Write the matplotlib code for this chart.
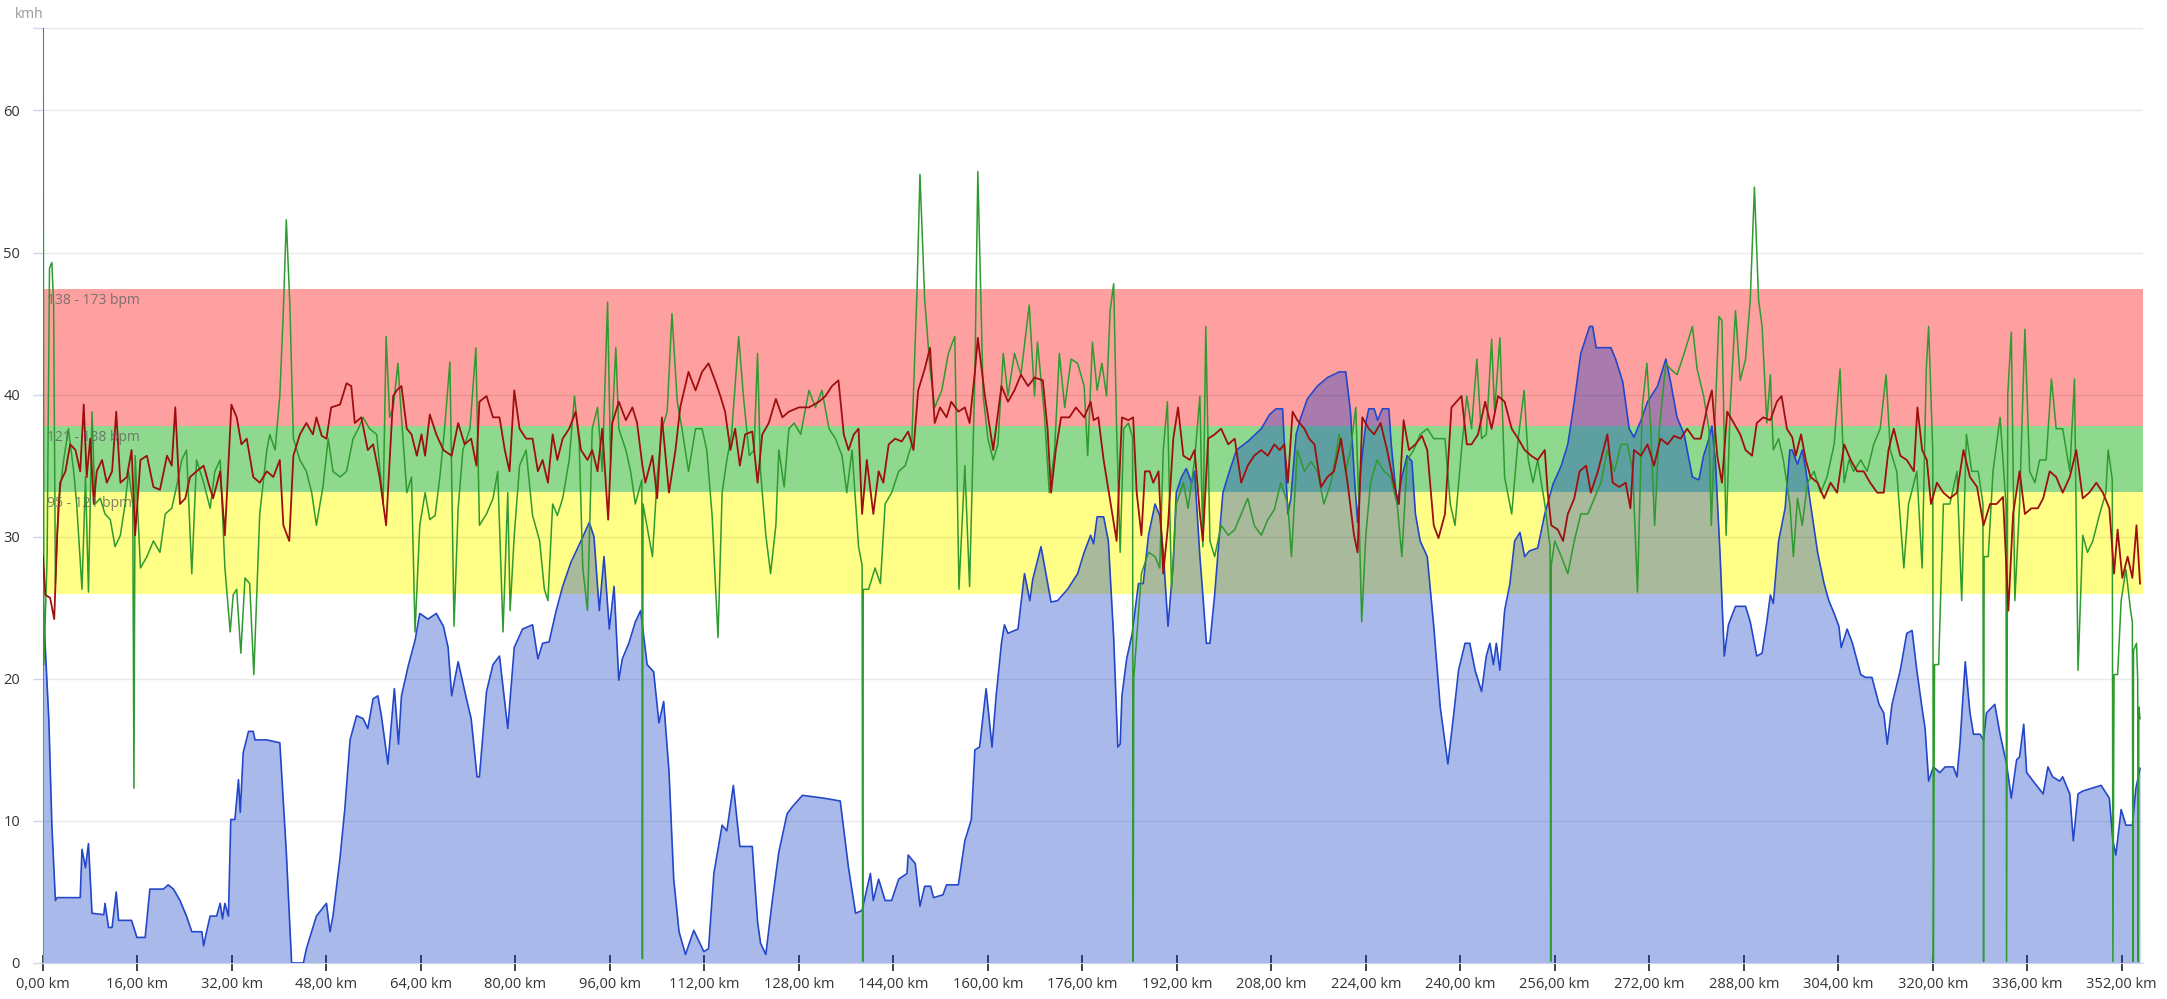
import matplotlib
matplotlib.use("Agg")
import matplotlib.pyplot as plt

# distance (km) / value (kmh scale)
elev_pts = [
    (0, 25.5), (1.0, 17), (1.5, 9.7), (2.1, 4.4), (2.4, 4.6), (6.3, 4.6), (6.6, 8), (7.2, 6.7),
    (7.7, 8.4), (8.3, 3.5), (10.3, 3.4), (10.5, 4.2), (11.1, 2.5), (11.7, 2.5), (12.4, 5.0),
    (12.8, 3.0), (15.0, 3.0), (15.9, 1.8), (17.3, 1.8), (18.1, 5.2), (20.4, 5.2), (21.2, 5.5),
    (22.1, 5.2), (23.2, 4.4), (24.3, 3.3), (25.2, 2.2), (26.9, 2.2), (27.2, 1.2), (27.7, 2.2),
    (28.3, 3.3), (29.4, 3.3), (30.0, 4.2), (30.4, 3.1), (30.8, 4.2), (31.4, 3.3), (31.8, 10.1),
    (32.5, 10.1), (33.1, 12.9), (33.4, 10.6), (33.9, 14.8), (34.8, 16.3), (35.6, 16.3),
    (35.9, 15.7), (37.9, 15.7), (40.1, 15.5), (41.2, 7.8), (42.1, 0), (44.1, 0), (44.6, 1.0),
    (46.3, 3.3), (48.0, 4.2), (48.6, 2.2), (49.1, 3.3), (50.3, 7.4), (51.1, 10.8), (52.0, 15.7),
    (53.1, 17.4), (54.2, 17.2), (55.0, 16.5), (55.9, 18.6), (56.7, 18.8), (57.3, 17.4),
    (58.4, 14.0), (59.5, 19.3), (60.2, 15.4), (60.7, 18.8), (61.9, 21.0), (63.0, 22.7),
    (63.8, 24.6), (65.2, 24.2), (66.6, 24.6), (67.8, 23.7), (68.6, 22.2), (69.2, 18.8),
    (70.3, 21.2), (71.7, 18.6), (72.5, 17.2), (73.5, 13.1), (73.9, 13.1), (75.1, 19.1),
    (76.2, 21.0), (77.3, 21.6), (78.7, 16.5), (79.8, 22.2), (81.2, 23.5), (82.9, 23.8),
    (83.8, 21.4), (84.6, 22.5), (85.7, 22.6), (86.9, 24.8), (88.0, 26.5), (89.4, 28.2),
    (91.1, 29.7), (92.5, 31.0), (93.3, 30.0), (94.2, 24.8), (95.0, 28.6), (95.9, 23.5),
    (96.7, 26.5), (97.5, 19.9), (98.1, 21.4), (99.2, 22.5), (100.3, 24.0), (101.2, 24.8),
    (102.3, 21.0), (103.4, 20.5), (104.3, 16.9), (105.1, 18.4), (106.0, 13.5), (106.8, 5.9),
    (107.7, 2.2), (108.8, 0.6), (110.2, 2.3), (111.9, 0.8), (112.7, 1.0), (113.6, 6.3),
    (115.0, 9.7), (115.8, 9.3), (116.9, 12.5), (118.0, 8.2), (120.1, 8.2), (121.0, 2.9),
    (121.5, 1.4), (122.4, 0.6), (123.5, 4.4), (124.6, 7.8), (126.0, 10.5), (126.9, 11.0),
    (128.6, 11.8), (132.2, 11.6), (135.0, 11.4), (136.4, 6.7), (137.6, 3.5), (138.7, 3.7),
    (140.1, 6.3), (140.6, 4.4), (141.5, 5.9), (142.6, 4.4), (143.7, 4.4), (144.9, 5.9),
    (146.3, 6.3), (146.5, 7.6), (147.7, 7.0), (148.5, 4.0), (149.3, 5.4), (150.3, 5.4),
    (150.8, 4.6), (152.4, 4.8), (153.0, 5.5), (155.0, 5.5), (156.1, 8.6), (157.2, 10.1),
    (157.8, 15.0), (158.6, 15.2), (159.7, 19.3), (160.7, 15.2), (161.4, 18.8), (162.3, 22.5),
    (162.8, 23.8), (163.4, 23.2), (165.1, 23.5), (166.2, 27.4), (167.1, 25.5), (167.6, 27.0),
    (169.0, 29.3), (170.7, 25.4), (171.8, 25.5), (173.5, 26.3), (175.2, 27.4), (176.3, 28.9),
    (177.4, 30.1), (177.9, 29.5), (178.5, 31.4), (179.6, 31.4), (180.4, 29.7), (181.3, 22.9),
    (182.0, 15.2), (182.4, 15.4), (182.7, 18.8), (183.5, 21.4), (184.4, 23.1), (185.5, 26.7),
    (186.3, 26.7), (187.2, 30.1), (188.3, 32.3), (189.1, 31.5), (189.7, 28.9), (190.5, 23.7),
    (191.4, 28.2), (191.9, 33.1), (192.8, 34.2), (193.6, 34.8), (194.5, 33.8), (195.0, 34.6),
    (195.9, 28.6), (196.4, 25.9), (197.0, 22.5), (197.6, 22.5), (198.4, 25.9), (199.2, 30.1),
    (199.8, 33.1), (200.9, 34.6), (202.1, 36.1), (204.0, 36.7), (206.3, 37.6), (207.7, 38.6),
    (208.8, 39.0), (209.9, 39.0), (210.8, 31.6), (211.3, 32.7), (212.2, 37.2), (213.0, 38.4),
    (214.1, 39.7), (215.8, 40.6), (217.5, 41.2), (219.5, 41.6), (220.6, 41.6), (221.4, 38.8),
    (222.0, 34.6), (222.6, 31.0), (223.1, 34.6), (224.0, 38.0), (224.5, 39.0), (225.4, 39.0),
    (226.0, 38.2), (226.8, 39.0), (227.9, 39.0), (228.3, 36.5), (229.3, 32.3), (230.1, 34.2),
    (231.0, 35.7), (231.8, 35.3), (232.4, 31.6), (233.2, 29.7), (234.4, 28.6), (235.5, 23.7),
    (236.6, 18.0), (237.9, 14.0), (238.8, 17.2), (239.7, 20.6), (240.8, 22.5), (241.6, 22.5),
    (242.5, 20.6), (243.6, 19.1), (244.4, 21.6), (245.0, 22.5), (245.6, 21.0), (246.1, 22.5),
    (246.7, 20.6), (247.5, 24.8), (248.4, 26.7), (249.2, 29.7), (250.1, 30.3), (250.9, 28.6),
    (251.7, 29.0), (253.1, 29.2), (254.3, 31.6), (255.7, 33.7), (257.1, 35.0), (258.2, 36.5),
    (259.3, 39.5), (260.4, 42.9), (261.9, 44.8), (262.4, 44.8), (263.0, 43.3), (265.5, 43.3),
    (266.3, 42.5), (267.5, 40.9), (268.6, 37.6), (269.4, 37.0), (270.6, 38.2), (271.7, 39.5),
    (273.4, 40.6), (274.8, 42.5), (275.6, 40.9), (276.7, 38.4), (277.9, 37.2), (279.3, 34.2),
    (280.4, 34.0), (281.2, 35.7), (282.1, 36.9), (282.6, 37.8), (283.2, 35.3), (284.0, 28.6),
    (284.7, 21.6), (285.4, 23.8), (286.6, 25.1), (288.3, 25.1), (289.1, 24.0), (290.2, 21.6),
    (291.1, 21.8), (291.9, 24.0), (292.5, 25.9), (293.0, 25.3), (293.9, 29.7), (295.0, 32.0),
    (295.8, 36.1), (296.2, 36.1), (297.1, 35.1), (297.9, 36.1), (298.5, 34.7), (299.3, 32.3),
    (300.5, 28.9), (301.6, 26.7), (302.4, 25.5), (303.3, 24.6), (304.1, 23.7), (304.5, 22.2),
    (305.5, 23.5), (306.4, 22.5), (307.8, 20.3), (308.6, 20.1), (309.7, 20.1), (310.9, 18.2),
    (311.7, 17.6), (312.3, 15.4), (313.1, 18.2), (314.5, 20.6), (315.6, 23.2), (316.5, 23.4),
    (317.3, 20.6), (318.2, 17.9), (318.7, 16.5), (319.3, 12.8), (320.1, 13.8), (321.2, 13.4),
    (322.1, 13.8), (323.5, 13.8), (324.1, 13.1), (324.6, 15.4), (325.5, 21.2), (326.3, 17.6),
    (326.9, 16.1), (328.0, 16.1), (328.6, 15.7), (329.1, 17.6), (330.5, 18.2), (331.4, 16.1),
    (332.5, 14.0), (333.3, 11.6), (334.2, 14.3), (334.7, 14.5), (335.4, 16.8), (335.9, 13.4),
    (337.0, 12.8), (338.7, 11.9), (339.5, 13.8), (340.3, 13.1), (341.5, 12.8), (342.0, 13.1),
    (343.2, 11.9), (343.8, 8.6), (344.6, 11.9), (345.4, 12.1), (348.5, 12.5), (349.9, 11.6),
    (350.5, 8.6), (351.0, 7.6), (351.9, 10.8), (352.7, 9.7), (353.8, 9.7), (354.4, 12.3),
    (355.1, 13.7),
]

hr_pts = [
    (0, 28.6), (0.4, 25.9), (1.2, 25.7), (1.9, 24.2), (2.4, 30.1), (2.9, 33.8), (3.8, 34.6),
    (4.6, 36.5), (5.5, 36.1), (6.3, 34.6), (6.9, 39.3), (7.4, 34.2), (8.0, 36.9), (8.6, 32.3),
    (9.1, 34.6), (10.0, 35.4), (10.8, 33.8), (11.7, 34.6), (12.4, 38.8), (13.1, 33.8),
    (14.2, 34.2), (15.0, 36.1), (15.6, 30.1), (16.5, 35.4), (17.6, 35.7), (18.7, 33.5),
    (19.8, 33.3), (21.0, 35.7), (21.8, 35.0), (22.4, 39.1), (23.2, 32.3), (24.1, 32.7),
    (24.9, 34.2), (26.0, 34.6), (27.2, 35.0), (28.0, 33.8), (28.8, 32.7), (30.0, 34.6),
    (30.8, 30.1), (31.9, 39.3), (32.8, 38.4), (33.6, 36.5), (34.5, 36.9), (35.6, 34.2),
    (36.7, 33.8), (37.9, 34.6), (39.0, 34.2), (40.1, 35.4), (40.7, 30.8), (41.7, 29.7),
    (42.4, 35.7), (43.5, 37.2), (44.6, 38.0), (45.7, 37.2), (46.3, 38.4), (47.2, 37.1),
    (48.0, 36.9), (48.8, 39.1), (50.3, 39.3), (51.4, 40.8), (52.2, 40.6), (52.8, 38.0),
    (53.9, 38.4), (55.0, 36.1), (55.9, 36.5), (57.0, 34.2), (58.1, 30.8), (59.3, 39.9),
    (59.9, 40.3), (60.7, 40.6), (61.6, 37.6), (62.4, 37.2), (63.3, 35.7), (64.1, 37.2),
    (64.7, 35.7), (65.5, 38.6), (66.6, 37.2), (67.8, 36.1), (69.2, 35.7), (70.3, 38.0),
    (71.4, 36.5), (72.5, 36.9), (73.4, 35.0), (73.9, 39.5), (75.1, 39.9), (76.2, 38.4),
    (77.3, 38.4), (78.2, 36.1), (79.0, 34.6), (79.8, 40.3), (80.7, 37.6), (81.8, 36.9),
    (82.9, 36.9), (83.8, 34.6), (84.6, 35.4), (85.5, 33.8), (86.3, 37.2), (87.1, 35.4),
    (88.0, 36.9), (89.1, 37.6), (90.2, 38.8), (91.1, 36.1), (92.2, 35.4), (93.0, 36.1),
    (93.9, 34.6), (94.7, 37.6), (95.7, 31.2), (96.4, 38.0), (97.5, 39.5), (98.7, 38.2),
    (99.8, 39.1), (100.6, 38.0), (101.5, 35.0), (102.0, 33.8), (103.2, 35.7), (104.0, 32.7),
    (104.8, 38.4), (106.0, 33.1), (107.1, 36.1), (107.9, 39.1), (109.3, 41.6), (110.5, 40.3),
    (111.6, 41.6), (112.7, 42.2), (113.8, 41.0), (114.7, 39.9), (115.5, 38.8), (116.4, 36.1),
    (117.2, 37.6), (118.0, 35.0), (118.9, 37.2), (120.1, 37.4), (121.0, 33.8), (121.8, 37.2),
    (122.9, 38.0), (124.1, 39.7), (125.2, 38.4), (126.3, 38.8), (128.0, 39.1), (129.7, 39.1),
    (131.4, 39.5), (132.5, 39.9), (133.6, 40.6), (134.7, 41.0), (135.6, 37.2), (136.4, 36.1),
    (137.3, 37.2), (138.1, 37.6), (138.7, 31.6), (139.5, 35.4), (140.6, 31.6), (141.5, 34.6),
    (142.3, 33.8), (143.2, 36.5), (144.3, 36.9), (145.4, 36.7), (146.5, 37.4), (147.4, 36.1),
    (148.2, 40.3), (149.3, 41.8), (150.2, 43.3), (151.0, 38.0), (151.9, 39.1), (153.0, 38.4),
    (153.8, 39.5), (155.0, 38.8), (156.1, 39.1), (156.9, 38.0), (157.8, 41.6), (158.3, 44.0),
    (159.5, 39.9), (160.9, 36.1), (162.3, 40.6), (163.4, 39.5), (164.5, 40.3), (165.6, 41.4),
    (166.8, 40.6), (167.9, 41.2), (169.3, 41.0), (170.1, 37.6), (170.7, 33.1), (171.5, 36.1),
    (172.4, 38.4), (173.8, 38.4), (174.9, 39.1), (176.3, 38.4), (177.4, 39.5), (177.9, 38.2),
    (178.7, 38.4), (179.6, 35.4), (181.0, 31.8), (181.8, 29.7), (182.7, 38.4), (183.8, 38.2),
    (184.6, 38.4), (185.2, 33.1), (186.0, 30.1), (186.6, 34.6), (187.4, 34.6), (188.0, 33.8),
    (188.9, 34.6), (189.7, 27.4), (190.5, 30.8), (191.4, 36.9), (192.2, 39.1), (193.1, 35.7),
    (194.2, 35.4), (195.0, 36.1), (195.9, 31.6), (196.4, 29.7), (197.3, 36.9), (198.4, 37.2),
    (199.5, 37.6), (200.7, 36.5), (201.8, 36.9), (202.9, 33.8), (204.0, 35.0), (205.1, 35.7),
    (206.3, 36.1), (207.4, 35.7), (208.5, 36.5), (209.4, 36.1), (210.2, 36.5), (210.8, 33.8),
    (211.6, 38.8), (212.4, 38.2), (213.6, 37.6), (214.4, 36.9), (215.3, 36.5), (216.4, 33.5),
    (217.5, 34.2), (218.6, 34.6), (219.8, 36.9), (220.9, 33.8), (222.0, 30.1), (222.6, 28.9),
    (223.4, 38.4), (224.5, 37.6), (225.4, 37.2), (226.5, 38.0), (227.6, 36.1), (228.7, 33.8),
    (229.6, 32.3), (230.4, 38.2), (231.3, 36.1), (232.4, 36.5), (233.5, 37.1), (234.4, 36.1),
    (235.5, 30.8), (236.3, 29.9), (237.4, 31.6), (238.5, 39.1), (240.2, 39.9), (241.1, 36.5),
    (241.9, 36.5), (243.0, 37.2), (244.2, 39.5), (245.3, 37.6), (246.4, 39.9), (247.5, 39.5),
    (248.7, 37.6), (249.8, 36.9), (250.9, 36.1), (252.0, 35.7), (253.1, 35.4), (254.3, 36.1),
    (254.8, 33.1), (255.4, 30.8), (256.5, 30.5), (257.4, 29.7), (258.2, 31.6), (259.3, 32.7),
    (260.2, 34.6), (261.3, 35.0), (262.1, 33.1), (263.3, 34.6), (264.9, 37.2), (265.8, 33.8),
    (266.9, 33.5), (268.0, 33.8), (268.8, 32.0), (269.4, 36.1), (270.6, 35.7), (271.7, 36.5),
    (272.8, 35.0), (273.9, 36.9), (275.1, 36.5), (276.2, 37.1), (277.3, 36.9), (278.4, 37.6),
    (279.6, 36.9), (280.7, 36.9), (281.8, 39.1), (282.6, 40.3), (283.5, 35.7), (284.3, 33.8),
    (285.2, 38.8), (286.3, 38.0), (287.4, 37.2), (288.3, 36.1), (289.4, 35.7), (290.2, 38.0),
    (291.3, 38.4), (292.5, 38.2), (293.6, 39.5), (294.4, 39.9), (295.3, 37.6), (296.2, 37.0),
    (296.8, 35.7), (297.7, 37.2), (298.5, 35.4), (299.3, 34.2), (300.5, 33.8), (301.6, 32.7),
    (302.7, 33.8), (303.8, 33.1), (305.0, 36.5), (306.1, 35.4), (307.2, 34.6), (308.3, 34.6),
    (309.4, 33.8), (310.6, 33.1), (311.7, 33.1), (312.5, 36.1), (313.4, 37.6), (314.5, 35.7),
    (315.6, 35.4), (316.8, 34.6), (317.4, 39.1), (318.2, 36.1), (319.0, 35.4), (319.7, 32.3),
    (320.7, 33.8), (321.8, 33.1), (322.9, 32.7), (324.1, 33.1), (325.2, 36.1), (326.3, 34.2),
    (327.5, 33.5), (328.6, 30.8), (329.7, 32.3), (330.8, 32.3), (331.9, 32.8), (332.8, 24.8),
    (333.6, 31.6), (334.7, 34.6), (335.6, 31.6), (336.7, 32.0), (337.8, 32.0), (338.7, 32.7),
    (339.8, 34.6), (340.9, 34.2), (342.0, 33.1), (343.2, 34.2), (344.3, 36.1), (345.4, 32.7),
    (346.5, 33.1), (347.7, 33.8), (348.8, 33.1), (349.9, 32.0), (350.7, 27.4), (351.3, 30.5),
    (352.1, 27.1), (353.0, 28.6), (353.8, 27.1), (354.5, 30.8), (355.1, 26.7),
]

speed_pts = [
    (0, 0), (0.03, 65.8), (0.15, 21), (0.7, 28.6), (1.1, 48.9), (1.5, 49.3), (1.8, 46.3),
    (2.1, 26.7), (2.6, 32.3), (3.5, 35.4), (4.3, 37.6), (5.2, 34.6), (5.7, 32.3), (6.6, 26.3),
    (7.2, 34.2), (7.7, 26.1), (8.3, 38.8), (8.8, 32.3), (9.7, 32.7), (10.5, 31.6), (11.4, 31.2),
    (12.2, 29.3), (13.1, 30.1), (13.9, 32.3), (14.5, 34.6), (15.2, 32.3), (15.4, 12.3),
    (15.6, 35.7), (16.5, 27.8), (17.6, 28.6), (18.7, 29.7), (19.8, 28.9), (20.7, 31.6),
    (21.8, 32.0), (22.6, 33.5), (23.5, 35.4), (24.3, 36.1), (25.2, 27.4), (26.0, 35.4),
    (27.2, 33.8), (28.3, 32.0), (29.1, 34.6), (30.0, 35.4), (30.8, 27.8), (31.7, 23.3),
    (32.2, 25.9), (32.8, 26.3), (33.5, 21.8), (34.2, 27.1), (35.0, 26.7), (35.7, 20.3),
    (36.7, 31.6), (37.9, 36.1), (38.4, 37.2), (39.3, 36.1), (40.1, 39.9), (40.7, 45.9),
    (41.2, 52.3), (41.8, 46.3), (42.4, 36.9), (43.5, 35.4), (44.6, 34.6), (45.5, 33.1),
    (46.3, 30.8), (47.4, 33.5), (48.3, 36.9), (49.1, 34.6), (50.3, 34.2), (51.4, 34.6),
    (52.5, 36.9), (53.4, 37.6), (54.2, 38.4), (55.3, 37.6), (56.5, 37.2), (57.6, 32.3),
    (58.1, 44.1), (58.7, 38.4), (59.3, 39.1), (60.1, 42.2), (60.7, 38.4), (61.6, 33.1),
    (62.4, 34.2), (63.0, 23.3), (63.8, 30.8), (64.7, 33.1), (65.5, 31.2), (66.4, 31.5),
    (67.2, 34.2), (68.0, 37.6), (68.9, 42.3), (69.6, 23.7), (70.3, 32.0), (71.1, 36.1),
    (72.3, 37.6), (73.3, 43.3), (73.9, 30.8), (75.1, 31.6), (76.2, 32.7), (77.0, 34.6),
    (77.9, 23.3), (78.7, 33.1), (79.1, 24.8), (79.8, 30.1), (80.7, 35.0), (81.8, 36.1),
    (82.9, 31.5), (84.1, 29.7), (84.9, 26.3), (85.5, 25.5), (86.3, 32.3), (87.1, 31.5),
    (88.0, 32.7), (89.1, 35.4), (90.0, 39.9), (90.8, 36.5), (91.4, 27.8), (92.2, 24.8),
    (93.0, 37.6), (93.9, 39.1), (94.7, 34.6), (95.6, 46.5), (96.1, 35.4), (97.0, 43.3),
    (97.5, 37.6), (98.7, 36.1), (99.5, 34.6), (100.3, 32.3), (101.4, 34.0), (101.5, 0.3),
    (101.6, 32.3), (103.2, 28.6), (104.0, 34.2), (104.8, 37.6), (105.7, 38.8), (106.5, 45.7),
    (107.4, 39.5), (108.2, 37.6), (109.3, 34.6), (110.5, 37.6), (111.6, 37.6), (112.4, 36.1),
    (113.3, 31.5), (114.3, 22.9), (115.0, 33.1), (115.8, 35.4), (116.6, 37.2), (117.8, 44.1),
    (118.6, 39.9), (119.6, 35.7), (120.4, 36.1), (121.0, 42.9), (121.5, 34.6), (122.4, 30.1),
    (123.2, 27.4), (124.1, 30.8), (124.6, 36.1), (125.5, 33.5), (126.3, 37.6), (127.2, 38.0),
    (128.3, 37.2), (129.7, 40.3), (130.8, 39.1), (131.9, 40.3), (133.1, 37.6), (134.2, 36.9),
    (135.3, 35.7), (136.1, 33.1), (137.0, 36.1), (138.1, 29.3), (138.7, 28.0), (138.8, 0.1),
    (138.9, 26.3), (139.8, 26.3), (140.9, 27.8), (141.8, 26.7), (142.6, 32.3), (143.7, 33.1),
    (144.9, 34.6), (146.0, 35.0), (147.1, 36.5), (148.0, 47.4), (148.5, 55.5), (149.3, 46.7),
    (150.2, 41.8), (151.0, 39.1), (152.2, 40.3), (153.3, 42.9), (154.4, 44.1), (155.1, 26.3),
    (156.1, 35.0), (156.9, 26.5), (157.8, 41.4), (158.3, 55.7), (159.2, 39.9), (160.0, 36.9),
    (160.9, 35.4), (161.7, 36.5), (162.6, 42.9), (163.4, 39.9), (164.5, 42.9), (165.6, 41.4),
    (167.0, 46.3), (167.9, 39.9), (168.4, 43.7), (169.6, 38.4), (170.4, 33.1), (171.3, 36.1),
    (172.1, 42.9), (173.0, 39.1), (174.1, 42.5), (175.2, 42.2), (176.3, 40.6), (176.9, 35.7),
    (177.7, 43.7), (178.5, 40.3), (179.3, 42.2), (180.1, 39.9), (180.7, 45.9), (181.3, 47.8),
    (181.8, 37.6), (182.4, 28.9), (183.0, 37.6), (183.8, 38.0), (184.5, 37.0), (184.6, 0.1),
    (184.7, 20.0), (185.2, 22.9), (186.0, 27.4), (187.2, 28.9), (188.3, 28.6), (189.1, 27.8),
    (189.7, 36.1), (190.4, 39.5), (191.1, 26.3), (191.9, 32.3), (193.1, 33.8), (193.9, 32.0),
    (195.0, 35.4), (195.9, 39.9), (196.4, 29.3), (196.9, 44.8), (197.6, 29.7), (198.4, 28.6),
    (199.5, 30.8), (200.7, 30.1), (201.8, 30.5), (202.9, 31.6), (204.0, 32.7), (205.1, 30.8),
    (206.3, 30.1), (207.4, 31.2), (208.5, 31.9), (209.6, 33.8), (210.8, 32.3), (211.4, 28.6),
    (212.4, 36.1), (213.6, 34.6), (214.7, 35.3), (215.8, 34.6), (216.9, 32.3), (218.1, 33.8),
    (219.5, 37.2), (220.6, 34.6), (221.4, 36.1), (222.3, 39.1), (222.8, 32.3), (223.3, 24.0),
    (224.0, 30.1), (224.8, 33.8), (225.9, 35.4), (227.1, 34.6), (228.2, 34.2), (229.3, 32.3),
    (230.1, 28.6), (231.0, 35.4), (232.1, 36.1), (233.2, 37.2), (234.4, 37.6), (235.5, 36.9),
    (236.6, 36.9), (237.4, 36.9), (238.3, 32.3), (239.1, 30.8), (240.2, 36.1), (241.1, 39.9),
    (241.9, 37.6), (242.8, 42.5), (243.6, 36.9), (244.4, 37.2), (245.3, 43.9), (245.8, 38.8),
    (246.7, 44.0), (247.5, 34.2), (248.7, 31.6), (249.8, 36.9), (250.8, 40.3), (251.5, 35.4),
    (252.3, 33.8), (253.1, 35.4), (254.3, 32.3), (255.2, 29.3), (255.3, 0.1), (255.4, 28.0),
    (256.0, 29.7), (257.1, 28.6), (258.2, 27.4), (259.3, 29.7), (260.4, 31.6), (261.6, 31.6),
    (262.7, 32.7), (263.8, 33.8), (264.9, 36.1), (266.1, 34.6), (267.2, 36.5), (268.3, 36.5),
    (269.2, 34.6), (270.0, 26.1), (270.8, 39.1), (271.6, 42.2), (272.2, 38.0), (272.9, 30.8),
    (273.7, 37.6), (274.8, 42.2), (275.6, 41.8), (276.7, 41.4), (277.9, 42.9), (279.3, 44.8),
    (280.1, 41.8), (281.2, 39.9), (282.1, 37.6), (282.5, 30.8), (283.2, 39.1), (283.8, 45.5),
    (284.3, 45.2), (285.0, 30.1), (285.7, 39.1), (286.6, 45.9), (287.4, 41.0), (288.3, 42.5),
    (289.1, 46.7), (289.8, 54.6), (290.5, 46.7), (291.1, 44.8), (291.9, 38.0), (292.5, 41.4),
    (293.0, 36.1), (293.9, 36.9), (294.7, 35.4), (295.8, 32.3), (296.4, 28.6), (297.1, 32.7),
    (297.9, 30.8), (298.8, 33.8), (299.9, 34.6), (301.0, 33.1), (302.1, 34.2), (303.3, 36.5),
    (304.3, 41.8), (305.0, 33.8), (305.8, 35.4), (306.6, 34.6), (307.8, 35.4), (308.9, 34.6),
    (310.0, 36.5), (311.1, 37.6), (312.1, 41.4), (312.8, 36.1), (313.9, 34.6), (315.1, 27.8),
    (315.9, 32.3), (317.3, 34.6), (318.2, 27.8), (318.9, 41.8), (319.3, 44.8), (320.0, 36.0),
    (320.1, 0.1), (320.3, 21.0), (321.0, 21.0), (321.8, 32.3), (322.9, 32.3), (324.1, 34.6),
    (324.9, 25.5), (325.7, 37.2), (326.6, 34.6), (327.7, 34.6), (328.5, 32.3), (328.6, 0.1),
    (328.7, 28.6), (329.4, 28.6), (330.2, 34.6), (331.4, 38.4), (332.4, 32.3), (332.5, 0.1),
    (332.7, 40.0), (333.3, 44.4), (333.9, 25.5), (334.7, 32.3), (335.6, 44.6), (336.4, 34.6),
    (337.3, 33.8), (338.1, 35.4), (339.2, 35.4), (340.1, 41.1), (340.9, 37.6), (342.0, 37.6),
    (343.2, 34.6), (344.0, 41.1), (344.6, 20.6), (345.4, 30.1), (346.2, 28.9), (347.1, 29.7),
    (348.2, 31.5), (349.3, 33.1), (349.7, 36.1), (350.4, 34.0), (350.5, 0.1), (350.7, 20.3),
    (351.3, 20.3), (351.9, 25.5), (352.7, 27.7), (353.5, 24.8), (353.8, 24.0), (353.9, 0.1),
    (354.0, 22.0), (354.5, 22.5), (354.7, 20.0), (354.8, 0.1), (354.9, 18.0), (355.1, 17.2),
]

# heart-rate zones shown on the speed axis
zone_labels = ["95 - 121 bpm", "121 - 138 bpm", "138 - 173 bpm"]
zone_bounds = [(25.95, 33.15), (33.15, 37.8), (37.8, 47.4)]
zone_colors = ["#ffff88", "#8fd98f", "#ffa0a0"]

x_ticks = list(range(0, 353, 16))
y_ticks = [0, 10, 20, 30, 40, 50, 60]
x_max = 355.6
y_max = 65.8

elev_km, elev_val = zip(*elev_pts)
hr_km, hr_val = zip(*hr_pts)
speed_km, speed_val = zip(*speed_pts)

plt.rcParams["font.family"] = ["Open Sans", "DejaVu Sans"]

fig = plt.figure(figsize=(21.67, 9.99), dpi=100)
ax = fig.add_axes([43 / 2167, 36 / 999, 2100 / 2167, 935 / 999])

# zones
for (lo, hi), col, lab in zip(zone_bounds, zone_colors, zone_labels):
    ax.axhspan(lo, hi, color=col, lw=0, zorder=0.5)
    ax.text(0.6, hi - 0.8, lab, ha="left", va="center", fontsize=10,
            color="#666666", alpha=0.85, zorder=6)

# grid lines
for yv in y_ticks[1:] + [y_max]:
    ax.axhline(yv, color="black", alpha=0.09, lw=1, zorder=1)

# elevation area
ax.fill_between(elev_km, elev_val, 0, color=(2 / 255, 52 / 255, 196 / 255),
                alpha=0.34, lw=0, zorder=2)
ax.plot(elev_km, elev_val, color="#2447c9", lw=1.2, zorder=3)

# speed and heart rate
ax.plot(speed_km, speed_val, color="#2f9a2f", lw=1.1, zorder=4)
ax.plot(hr_km, hr_val, color="#9e0f0f", lw=1.3, zorder=5)

ax.set_xlim(0, x_max)
ax.set_ylim(0, y_max)

ax.set_xticks(x_ticks)
ax.set_xticklabels([f"{v},00 km" for v in x_ticks])
ax.set_yticks(y_ticks + [y_max])
ax.set_yticklabels([str(v) for v in y_ticks] + [""])

ax.tick_params(axis="x", direction="inout", length=12, width=1.2, color="#222222",
               labelsize=10.5, labelcolor="#333333", pad=4)
ax.tick_params(axis="y", direction="out", length=7.5, width=1, color="#ccd6eb",
               labelsize=10.5, labelcolor="#333333", pad=9)

for side in ["top", "right"]:
    ax.spines[side].set_visible(False)
ax.spines["left"].set_color("#ccd6eb")
ax.spines["bottom"].set_color("#ccd6eb")

fig.text(15 / 2167, 1 - 14 / 999, "kmh", ha="left", va="center",
         fontsize=10, color="#999999")

fig.savefig("out.png", dpi=100)
plt.close()
